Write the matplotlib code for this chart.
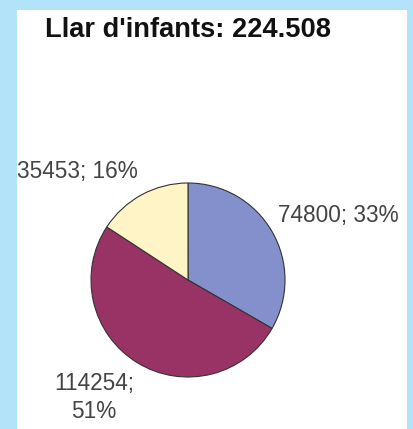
import matplotlib
matplotlib.use('Agg')
import matplotlib.pyplot as plt
from matplotlib.patches import Rectangle

# dades
titol = "Llar d'infants: 224.508"
valors = [74800, 114254, 35453]
percents = ['33%', '51%', '16%']
colors = ['#8490cc', '#993366', '#fff4c6']

W, H = 413, 429
fig = plt.figure(figsize=(W / 100, H / 100), dpi=100)
fig.patch.set_facecolor('#b3e3f9')
fig.patches.append(Rectangle((17 / W, 0), 390 / W, (H - 10) / H,
                             transform=fig.transFigure, facecolor='white',
                             edgecolor='none', zorder=-1))

# pie: centre (188, 280) px, radi 97 px
r = 97
cx, cy = 188, 280
ax = fig.add_axes([(cx - 2 * r) / W, (H - cy - 2 * r) / H, 4 * r / W, 4 * r / H])
ax.set_zorder(1)
ax.patch.set_visible(False)
ax.pie(valors, colors=colors, startangle=90, counterclock=False, radius=1,
       wedgeprops=dict(edgecolor='#333333', linewidth=0.8))
ax.set_xlim(-2, 2)
ax.set_ylim(-2, 2)
ax.axis('off')

fnt = dict(family='Liberation Sans', fontsize=16.3, color='#444444')
ax.text(0.93, 0.66, f'{valors[0]}; {percents[0]}', ha='left', va='center', **fnt)
ax.text(-0.97, -1.21, f'{valors[1]};\n{percents[1]}', ha='center', va='center',
        linespacing=1.27, **fnt)
ax.text(-1.76, 1.12, f'{valors[2]}; {percents[2]}', ha='left', va='center', **fnt)

fig.text(45 / W, 1 - 30 / H, titol, ha='left', va='center',
         family='Liberation Sans', fontweight='bold', fontsize=19.6, color='#111111')

fig.savefig('out.png', dpi=100)
